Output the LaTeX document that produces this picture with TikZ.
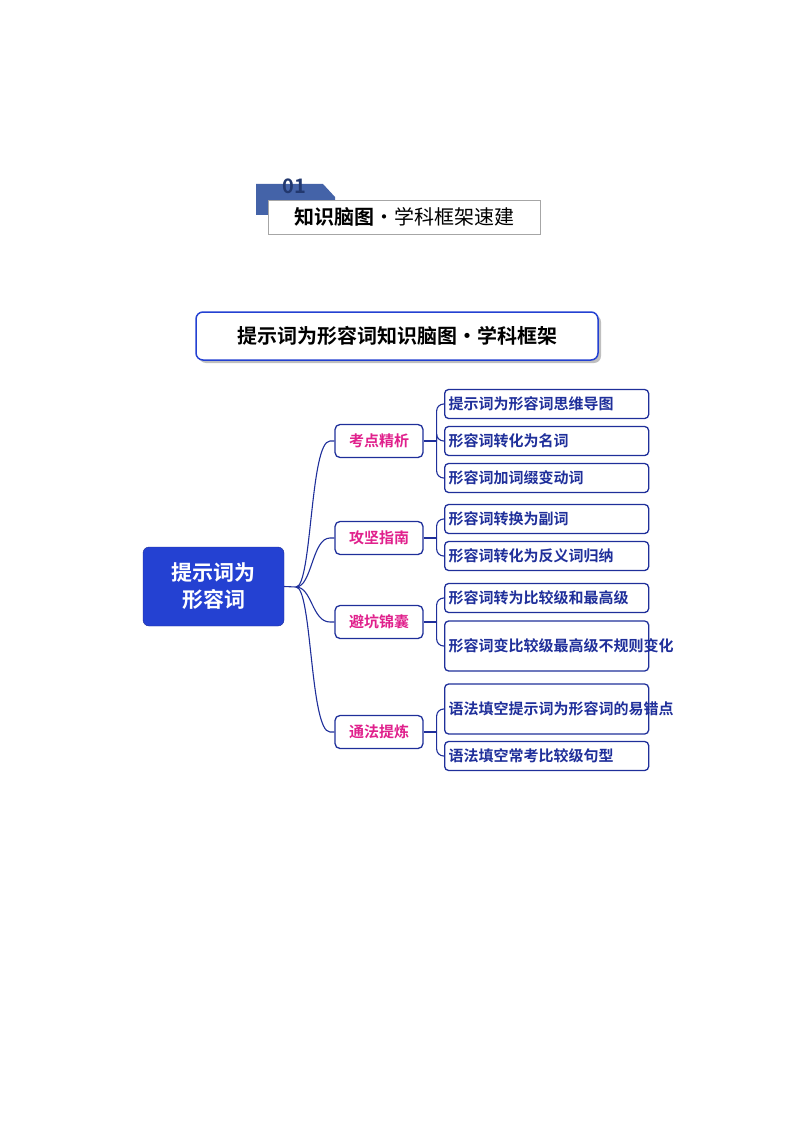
\documentclass[tikz,border=0pt]{standalone}
\usepackage{fontspec}
\newfontfamily\cjk{Noto Sans CJK SC}
\newfontfamily\cjkb{Noto Sans CJK SC Bold}
\definecolor{navy}{HTML}{1F2F9A}
\definecolor{rootblue}{HTML}{2441D2}
\definecolor{pinkt}{HTML}{E0208C}
\definecolor{hdrblue}{HTML}{4463A8}
\definecolor{hdrnum}{HTML}{22386E}
\begin{document}
\begin{tikzpicture}[x=1pt,y=-1pt,
  leaf/.style={draw=navy,line width=1.3pt,rounded corners=4pt,minimum height=29pt,text width=196pt,inner xsep=4pt,align=left,anchor=west,font=\cjkb\fontsize{15}{17}\selectfont,text=navy},
  mid/.style={draw=navy,line width=1.3pt,rounded corners=5pt,minimum width=88pt,minimum height=33pt,font=\cjkb\fontsize{15}{17}\selectfont,text=pinkt},
  link/.style={draw=navy,line width=1.1pt}]
\useasboundingbox (0,0) rectangle (794,1123);
% header
\fill[hdrblue] (256,184) -- (323,184) -- (335,197) -- (335,215) -- (256,215) -- cycle;
\node[font=\cjkb\fontsize{20}{20}\selectfont,text=hdrnum] (num) at (294,186) {01};
\node[draw=gray!70,fill=white,line width=0.6pt,minimum width=272pt,minimum height=34pt,inner sep=0pt] (hdr) at (404,217) {};
\node[font=\fontsize{20}{22}\selectfont] (hdrt) at (hdr.center) {{\cjkb 知识脑图}{\cjk ·学科框架速建}};
% title
\fill[gray!50,rounded corners=7pt] (199,315) rectangle (601,363);
\node[draw=rootblue,fill=white,line width=1.5pt,rounded corners=7pt,minimum width=402pt,minimum height=48pt,font=\cjkb\fontsize{20}{22}\selectfont] (title) at (397,336) {提示词为形容词知识脑图·学科框架};
% root
\node[fill=rootblue,draw=navy,rounded corners=6pt,minimum width=141pt,minimum height=79pt,align=center,text=white,font=\cjkb\fontsize{21}{27}\selectfont] (root) at (213.5,586.5) {提示词为\\形容词};
% mids
\node[mid] (m1) at (379,441) {考点精析};
\node[mid] (m2) at (379,538) {攻坚指南};
\node[mid] (m3) at (379,622) {避坑锦囊};
\node[mid] (m4) at (379,732) {通法提炼};
% leaves
\node[leaf] (l1) at (444,404) {提示词为形容词思维导图};
\node[leaf] (l2) at (444,441) {形容词转化为名词};
\node[leaf] (l3) at (444,478) {形容词加词缀变动词};
\node[leaf] (l4) at (444,519) {形容词转换为副词};
\node[leaf] (l5) at (444,556) {形容词转化为反义词归纳};
\node[leaf] (l6) at (444,598) {形容词转为比较级和最高级};
\node[leaf,minimum height=50pt] (l7) at (444,646) {形容词变比较级最高级不规则变化};
\node[leaf,minimum height=50pt] (l8) at (444,709) {语法填空提示词为形容词的易错点};
\node[leaf] (l9) at (444,756) {语法填空常考比较级句型};
% connectors root -> mids
\coordinate (rj) at (296,587);
\draw[link] (root.east) -- (rj);
\draw[link] (rj) .. controls (312,587) and (310,441) .. (330,441) -- (m1.west);
\draw[link] (rj) .. controls (312,587) and (312,538) .. (330,538) -- (m2.west);
\draw[link] (rj) .. controls (312,587) and (312,622) .. (330,622) -- (m3.west);
\draw[link] (rj) .. controls (312,587) and (310,732) .. (330,732) -- (m4.west);
% mids -> leaves
\foreach \m/\ls in {m1/{l1,l2,l3},m2/{l4,l5},m3/{l6,l7},m4/{l8,l9}}{
  \draw[link] (\m.east) -- ++(13,0) coordinate (j\m);
  \foreach \l in \ls{
    \draw[link,rounded corners=7pt] (j\m) |- (\l.west);
  }
}
\end{tikzpicture}
\end{document}
